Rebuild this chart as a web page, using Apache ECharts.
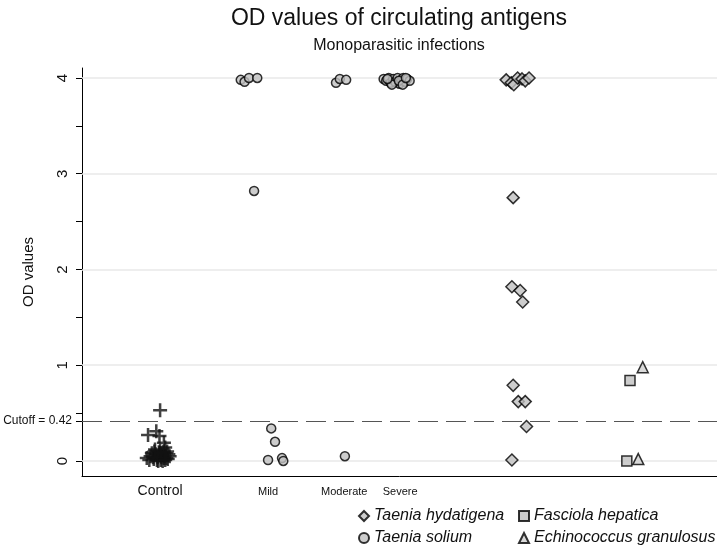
<!DOCTYPE html>
<html>
<head>
<meta charset="utf-8">
<script src="https://cdn.jsdelivr.net/npm/echarts@6/dist/echarts.min.js"></script>
<style>html,body{margin:0;padding:0;background:#fff}#c{width:717px;height:550px}</style>
</head>
<body>
<div id="c"></div>
<script>
// ---- data ----
var titleText = 'OD values of circulating antigens';
var subtitleText = 'Monoparasitic infections';
var yTicksMajor = [0, 1, 2, 3, 4];
var yTicksMinor = [0.5, 1.5, 2.5, 3.5];
var cutoff = 0.42;
var groupLabels = ['Control', 'Mild', 'Moderate', 'Severe'];
var groupLabelPos = [12.3, 29.3, 41.3, 50.1];
var legendNames = ['Taenia hydatigena', 'Taenia solium', 'Fasciola hepatica', 'Echinococcus granulosus'];

var controlPts = [
  [12.3,0.53],[10.4,0.27],[11.7,0.31],[12.2,0.26],[12.9,0.19],[13.1,0.14],
  [10.2,0.03],[10.8,0.05],[11.3,0.02],[11.6,0.07],[11.9,0.04],[12.1,0.09],
  [12.4,0.01],[12.6,0.06],[12.9,0.03],[13.2,0.08],[13.5,0.02],[13.8,0.05],
  [11.0,0.08],[11.4,0.10],[12.0,0.00],[12.3,0.11],[12.7,0.00],[13.0,0.05],
  [13.4,0.10],[11.8,0.01],[12.5,0.04],[13.6,0.07],[10.6,0.01],[11.2,0.04],
  [12.2,0.06],[12.8,0.09],[13.3,0.03],[11.5,0.12],[12.4,0.08],[13.1,0.01]
];
var soliumPts = [
  [25.0,3.98],[25.6,3.96],[26.3,4.0],[27.6,4.0],[27.1,2.82],
  [29.8,0.34],[30.4,0.20],[29.3,0.01],[31.5,0.03],[31.7,0.0],
  [40.0,3.95],[40.6,3.99],[41.6,3.98],[41.4,0.05],
  [47.5,3.99],[47.9,3.97],[48.3,4.0],[48.6,3.95],[49.0,3.99],[49.3,3.96],
  [49.7,4.0],[50.0,3.94],[50.3,3.98],[50.6,4.0],[50.9,3.96],[51.2,3.99],
  [51.6,3.97],[48.8,3.93],[49.9,3.97],[50.5,3.93],[51.0,4.0],[48.1,3.99]
];
var hydatigenaPts = [
  [66.8,3.98],[67.6,3.95],[68.0,3.93],[68.6,4.0],[69.3,3.99],[69.8,3.97],[70.4,4.0],
  [67.9,2.75],[67.7,1.82],[69.0,1.78],[69.4,1.66],
  [67.9,0.79],[68.7,0.62],[69.8,0.62],[70.0,0.36],[67.7,0.01]
];
var hepaticaPts = [[86.3,0.84],[85.8,0.0]];
var granulosusPts = [[88.3,0.98],[87.6,0.02]];

// ---- chart ----
var FONT = '"Liberation Sans", Arial, sans-serif';
var fillGray = '#c0c0c0';
function markStyle() {
  return { color: fillGray, borderColor: '#000', borderWidth: 1.5 };
}
var plusPath = 'path://M4.1,0H5.9V4.1H10V5.9H5.9V10H4.1V5.9H0V4.1H4.1Z';

var legendPos = [[358, 508], [358, 530], [518, 508], [518, 530]];
var legends = legendNames.map(function (n, i) {
  return {
    left: legendPos[i][0], top: legendPos[i][1], itemWidth: 10, itemHeight: 10, itemGap: 0,
    padding: 0,
    textStyle: { fontSize: 16, fontStyle: 'italic', color: '#111', fontFamily: FONT, padding: [0, 0, 0, 0] },
    data: [n]
  };
});

var chart = echarts.init(document.getElementById('c'), null, { renderer: 'canvas' });
chart.setOption({
  animation: false,
  backgroundColor: '#fff',
  textStyle: { fontFamily: FONT },
  graphic: [
    { type: 'text', x: 399, y: 19, style: { text: titleText, fontSize: 23, fontFamily: FONT, fill: '#111', textAlign: 'center', textVerticalAlign: 'middle' } },
    { type: 'text', x: 399, y: 46, style: { text: subtitleText, fontSize: 16, fontFamily: FONT, fill: '#111', textAlign: 'center', textVerticalAlign: 'middle' } }
  ],
  grid: { left: 82, right: 0, top: 68, bottom: 74 },
  legend: legends,
  xAxis: {
    type: 'value', min: 0, max: 100,
    axisLine: { show: true, onZero: false, lineStyle: { color: '#000', width: 1 } },
    axisTick: { show: false },
    splitLine: { show: false },
    axisLabel: {
      customValues: groupLabelPos,
      margin: 8,
      color: '#111',
      formatter: function (v) {
        var best = 0;
        for (var i = 1; i < groupLabelPos.length; i++) {
          if (Math.abs(groupLabelPos[i] - v) < Math.abs(groupLabelPos[best] - v)) best = i;
        }
        return best === 0 ? '{a|' + groupLabels[best] + '}' : '{b|' + groupLabels[best] + '}';
      },
      rich: {
        a: { fontSize: 14, fontFamily: FONT, color: '#111' },
        b: { fontSize: 11, fontFamily: FONT, color: '#111', padding: [2, 0, 0, 0] }
      }
    }
  },
  yAxis: {
    type: 'value', min: -0.157, max: 4.104,
    name: 'OD values', nameLocation: 'middle', nameGap: 46, nameRotate: 90,
    nameTextStyle: { fontSize: 15, color: '#111', fontFamily: FONT },
    axisLine: { show: true, onZero: false, lineStyle: { color: '#000', width: 1 } },
    axisTick: { show: true, length: 6, lineStyle: { color: '#000' }, customValues: yTicksMajor.concat(yTicksMinor, [cutoff]) },
    axisLabel: { customValues: yTicksMajor, rotate: 90, fontSize: 15, color: '#111', margin: 12, fontFamily: FONT },
    splitLine: { show: false }
  },
  series: [
    {
      type: 'scatter', name: 'grid', data: [], silent: true, z: 1,
      markLine: {
        silent: true, symbol: 'none', animation: false,
        label: { show: false },
        lineStyle: { color: '#e8e8e8', width: 1.5, type: 'solid' },
        data: yTicksMajor.map(function (v) { return { yAxis: v }; })
      }
    },
    {
      type: 'scatter', name: 'cutoff', data: [], silent: true, z: 2,
      markLine: {
        silent: true, symbol: 'none', animation: false,
        lineStyle: { color: '#555', width: 1.2, type: [20, 8] },
        label: { show: true, position: 'start', formatter: 'Cutoff = ' + cutoff, fontSize: 12, color: '#111', distance: 10, fontFamily: FONT },
        data: [{ yAxis: cutoff }]
      }
    },
    {
      type: 'scatter', name: 'Control', data: controlPts, symbol: plusPath, symbolSize: 14,
      itemStyle: { color: '#111' }, z: 5
    },
    {
      type: 'scatter', name: 'Taenia solium', data: soliumPts, symbol: 'circle', symbolSize: 9,
      itemStyle: markStyle(), z: 5
    },
    {
      type: 'scatter', name: 'Taenia hydatigena', data: hydatigenaPts, symbol: 'diamond', symbolSize: 12,
      itemStyle: markStyle(), z: 5
    },
    {
      type: 'scatter', name: 'Fasciola hepatica', data: hepaticaPts, symbol: 'rect', symbolSize: 10,
      itemStyle: markStyle(), z: 5
    },
    {
      type: 'scatter', name: 'Echinococcus granulosus', data: granulosusPts, symbol: 'triangle', symbolSize: 11,
      itemStyle: { color: '#d0d0d0', borderColor: '#000', borderWidth: 1.5 }, z: 5
    }
  ]
});
</script>
</body>
</html>
